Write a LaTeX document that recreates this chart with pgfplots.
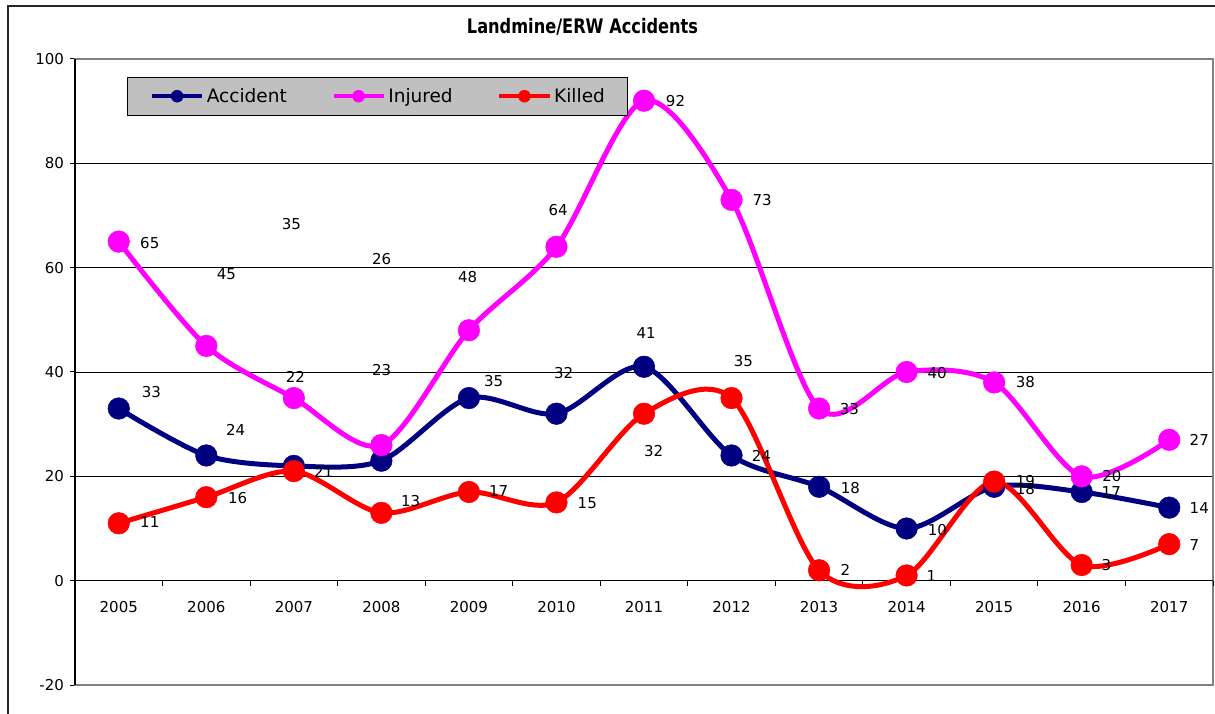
\documentclass[border=0pt]{standalone}
\usepackage{fontspec}
\setmainfont{DejaVu Sans}
\usepackage{pgfplots}
\pgfplotsset{compat=1.18}
\definecolor{acc}{RGB}{0,0,128}
\definecolor{inj}{RGB}{255,0,255}
\definecolor{kil}{RGB}{255,0,0}
\definecolor{legbg}{RGB}{192,192,192}
\definecolor{bordergray}{RGB}{128,128,128}
\newcommand{\lblfont}{\fontsize{15}{18}\selectfont}
\newcommand{\lab}[3]{\node[font=\lblfont, inner sep=0pt, text=black] at (axis cs:#1,#2) {#3};}
\begin{document}
\begin{tikzpicture}
\path[use as bounding box] (0pt,0pt) rectangle (1215pt,713pt);
\draw[line width=1.5pt, black!85] (8pt,-10pt) -- (8pt,707pt) -- (1230pt,707pt);
\node[anchor=base, inner sep=0pt, font=\fontsize{20}{24}\selectfont\bfseries] at (582.5pt,679.7pt) {\scalebox{0.81}[1]{Landmine/ERW Accidents}};
\begin{axis}[
  at={(75pt,28pt)}, anchor=south west,
  scale only axis, width=1138pt, height=626pt,
  xmin=2004.5, xmax=2017.5, ymin=-20, ymax=100,
  xtick={2005,2006,2007,2008,2009,2010,2011,2012,2013,2014,2015,2016,2017},
  ytick={-20,0,20,40,60,80,100},
  /pgf/number format/assume math mode=true,
  /pgf/number format/1000 sep={},
  tick label style={font=\fontsize{15}{18}\selectfont, text=black},
  tick align=outside, major tick length=5pt,
  xtick pos=bottom, ytick pos=left,
  xtick style={draw=none},
  ytick style={black, line width=1pt},
  xticklabel style={anchor=center, yshift=83.3pt},
  yticklabel style={xshift=-2.5pt},
  axis line style={draw=none},
  ymajorgrids, grid style={black, line width=0.8pt},
  clip=false,
  legend columns=3,
  legend style={at={(0.0457,0.9712)}, anchor=north west, fill=legbg, draw=black, line width=0.8pt,
    font=\fontsize{18.5}{21}\selectfont, inner xsep=23pt, inner ysep=11pt,
    nodes={inner sep=0pt},
    /tikz/every even column/.append style={column sep=45pt},
    /tikz/every odd column/.append style={column sep=3pt}},
  legend image code/.code={\draw[#1, line width=3.5pt, mark size=6pt, mark repeat=2, mark phase=2, mark options={line width=0.5pt}] plot coordinates {(0pt,0pt) (25pt,0pt) (50pt,0pt)};},
]
% plot area border and axes
\draw[bordergray, line width=1.5pt] (rel axis cs:0,0) rectangle (rel axis cs:1,1);
\draw[black, line width=1.5pt] (rel axis cs:0,0) -- (rel axis cs:0,1);
\draw[black, line width=1.2pt] (axis cs:2004.5,0) -- (axis cs:2017.5,0);
\pgfplotsinvokeforeach{2005.5,2006.5,2007.5,2008.5,2009.5,2010.5,2011.5,2012.5,2013.5,2014.5,2015.5,2016.5,2017.5}{
  \draw[black, line width=1pt] (axis cs:#1,0) -- ++(0pt,-5pt);
}
\addplot[acc, line width=5pt, smooth, mark=*, mark size=10.8pt, mark options={solid, fill=acc, draw=acc, line width=0.5pt}]
  coordinates {(2005,33) (2006,24) (2007,22) (2008,23) (2009,35) (2010,32) (2011,41) (2012,24) (2013,18) (2014,10) (2015,18) (2016,17) (2017,14)};
\addlegendentry{Accident}
\addplot[inj, line width=5pt, smooth, mark=*, mark size=10.8pt, mark options={solid, fill=inj, draw=inj, line width=0.5pt}]
  coordinates {(2005,65) (2006,45) (2007,35) (2008,26) (2009,48) (2010,64) (2011,92) (2012,73) (2013,33) (2014,40) (2015,38) (2016,20) (2017,27)};
\addlegendentry{Injured}
\addplot[kil, line width=5pt, smooth, mark=*, mark size=10.8pt, mark options={solid, fill=kil, draw=kil, line width=0.5pt}]
  coordinates {(2005,11) (2006,16) (2007,21) (2008,13) (2009,17) (2010,15) (2011,32) (2012,35) (2013,2) (2014,1) (2015,19) (2016,3) (2017,7)};
\addlegendentry{Killed}
% data labels: Injured
\lab{2005.354}{64.79}{65}
\lab{2006.230}{58.85}{45}
\lab{2006.972}{68.43}{35}
\lab{2008.003}{61.73}{26}
\lab{2008.985}{58.27}{48}
\lab{2010.020}{70.98}{64}
\lab{2011.360}{92.01}{92}
\lab{2012.350}{73.03}{73}
\lab{2013.347}{32.97}{33}
\lab{2014.348}{39.87}{40}
\lab{2015.356}{38.15}{38}
\lab{2016.346}{19.99}{20}
\lab{2017.343}{27.03}{27}
% Accident
\lab{2005.373}{36.23}{33}
\lab{2006.336}{28.95}{24}
\lab{2007.018}{38.97}{22}
\lab{2008.003}{40.45}{23}
\lab{2009.282}{38.34}{35}
\lab{2010.081}{39.87}{32}
\lab{2011.025}{47.54}{41}
\lab{2012.342}{23.83}{24}
\lab{2013.358}{17.83}{18}
\lab{2014.351}{9.78}{10}
\lab{2015.356}{17.64}{18}
\lab{2016.338}{17.06}{17}
\lab{2017.343}{13.99}{14}
% Killed
\lab{2005.354}{11.18}{11}
\lab{2006.359}{15.91}{16}
\lab{2007.341}{20.76}{21}
\lab{2008.334}{15.34}{13}
\lab{2009.339}{17.12}{17}
\lab{2010.352}{14.95}{15}
\lab{2011.109}{24.79}{32}
\lab{2012.136}{42.17}{35}
\lab{2013.301}{2.11}{2}
\lab{2014.283}{0.96}{1}
\lab{2015.356}{19.04}{19}
\lab{2016.281}{2.93}{3}
\lab{2017.286}{6.90}{7}
\end{axis}
\end{tikzpicture}
\end{document}
